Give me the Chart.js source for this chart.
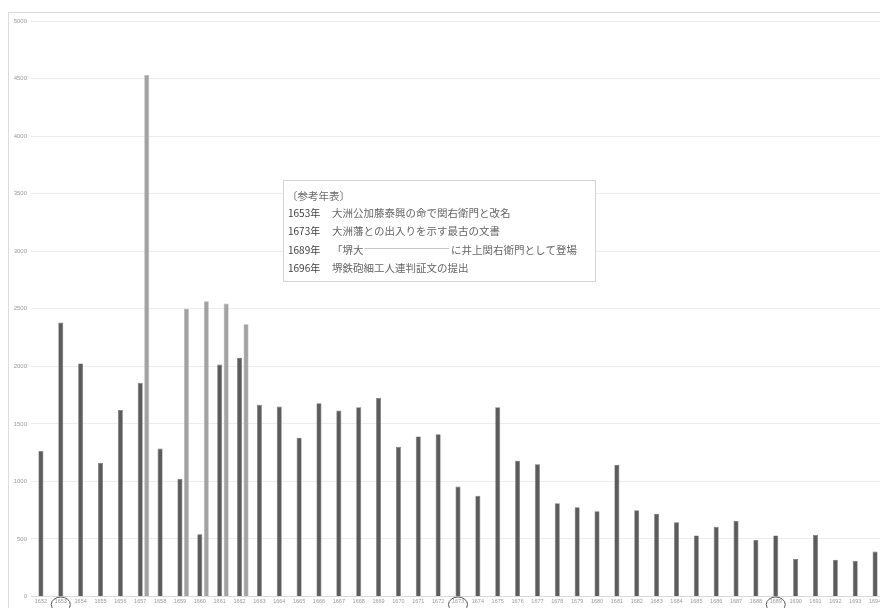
<!DOCTYPE html>
<html>
<head>
<meta charset="utf-8">
<script src="https://cdn.jsdelivr.net/npm/chart.js@4"></script>
<style>
  html, body { margin: 0; padding: 0; background: #fff; overflow: hidden; width: 880px; height: 608px; }
  canvas { display: block; }
</style>
</head>
<body>
<canvas id="c" width="890" height="608"></canvas>
<script>
// Years on the category axis
const years = ['1652','1653','1654','1655','1656','1657','1658','1659','1660','1661','1662','1663','1664','1665','1666','1667','1668','1669','1670','1671','1672','1673','1674','1675','1676','1677','1678','1679','1680','1681','1682','1683','1684','1685','1686','1687','1688','1689','1690','1691','1692','1693','1694'];

// Main yearly series (dark bars)
const mainValues = [1265, 2380, 2025, 1160, 1620, 1855, 1285, 1020, 540, 2015, 2075, 1665, 1650, 1380, 1680, 1615, 1645, 1725, 1300, 1390, 1410, 955, 875, 1645, 1180, 1150, 810, 775, 740, 1145, 750, 720, 645, 530, 605, 655, 490, 530, 325, 535, 320, 310, 390];

// Secondary series, only present for a few years (light bars)
const secondValues = [null, null, null, null, null, 4530, null, 2500, 2565, 2545, 2365, null, null, null, null, null, null, null, null, null, null, null, null, null, null, null, null, null, null, null, null, null, null, null, null, null, null, null, null, null, null, null, null];

// Value axis ticks
const yTicks = [0, 500, 1000, 1500, 2000, 2500, 3000, 3500, 4000, 4500, 5000];

// Years circled on the axis
const circledYears = ['1653', '1673', '1689'];

// Reference chronology box
const noteTitle = '〔参考年表〕';
const noteYears = ['1653年', '1673年', '1689年', '1696年'];
const noteTexts = [
  ['大洲公加藤泰興の命で関右衛門と改名'],
  ['大洲藩との出入りを示す最古の文書'],
  ['「堺大', 'に井上関右衛門として登場'],
  ['堺鉄砲細工人連判証文の提出']
];

const JP = '"Noto Sans CJK JP", "Noto Sans", sans-serif';

const framePlugin = {
  id: 'frame',
  beforeDraw(chart) {
    const ctx = chart.ctx;
    ctx.save();
    ctx.fillStyle = '#ffffff';
    ctx.fillRect(0, 0, chart.width, chart.height);
    ctx.strokeStyle = '#dcdcdc';
    ctx.lineWidth = 1;
    ctx.strokeRect(8.5, 12.5, chart.width, chart.height);
    ctx.restore();
  }
};

const markPlugin = {
  id: 'marks',
  afterDraw(chart) {
    const ctx = chart.ctx;
    const xs = chart.scales.x;
    ctx.save();
    // circles around selected year labels
    ctx.strokeStyle = '#555555';
    ctx.lineWidth = 1;
    circledYears.forEach(y => {
      const px = xs.getPixelForValue(years.indexOf(y));
      ctx.beginPath();
      ctx.ellipse(px, 604.5, 9.5, 7.5, 0, 0, Math.PI * 2);
      ctx.stroke();
    });

    // chronology box
    const bx = 283.5, by = 180.5, bw = 312, bh = 101;
    ctx.fillStyle = '#ffffff';
    ctx.fillRect(bx, by, bw, bh);
    ctx.strokeStyle = '#d4d4d4';
    ctx.strokeRect(bx, by, bw, bh);

    ctx.textBaseline = 'middle';
    ctx.textAlign = 'left';
    ctx.fillStyle = '#6a6a6a';
    ctx.font = '10.5px ' + JP;
    ctx.fillText(noteTitle, 287, 196);

    const rows = [213, 231.5, 250, 268];
    noteYears.forEach((label, i) => {
      const y = rows[i];
      ctx.fillStyle = '#3e3e3e';
      ctx.font = '10px ' + JP;
      ctx.fillText(label, 288, y);
      ctx.fillStyle = '#666666';
      ctx.font = '10.5px ' + JP;
      const parts = noteTexts[i];
      ctx.fillText(parts[0], 332, y);
      if (parts.length > 1) {
        const w0 = ctx.measureText(parts[0]).width;
        ctx.strokeStyle = '#c8c8c8';
        ctx.beginPath();
        ctx.moveTo(332 + w0 + 1, y - 1.5);
        ctx.lineTo(449, y - 1.5);
        ctx.stroke();
        ctx.fillText(parts[1], 451, y);
      }
    });
    ctx.restore();
  }
};

new Chart(document.getElementById('c'), {
  type: 'bar',
  data: {
    labels: years,
    datasets: [
      { label: 'spacer', data: years.map(() => null), backgroundColor: 'rgba(0,0,0,0)' },
      { label: 'main', data: mainValues, backgroundColor: '#5c5c5c', borderColor: '#707070', borderWidth: 0.6 },
      { label: 'second', data: secondValues, backgroundColor: '#a2a2a2', borderColor: '#b4b4b4', borderWidth: 0.6 }
    ]
  },
  options: {
    responsive: false,
    animation: false,
    devicePixelRatio: 1,
    categoryPercentage: 0.98,
    barPercentage: 0.77,
    layout: { padding: { top: 21, right: 5, left: 0, bottom: 0 } },
    plugins: { legend: { display: false }, tooltip: { enabled: false } },
    scales: {
      x: {
        grid: { display: false, drawTicks: false },
        border: { display: true, color: '#d9d9d9' },
        ticks: {
          autoSkip: false, maxRotation: 0, minRotation: 0, padding: 2,
          color: '#9a9a9a', font: { family: 'Liberation Sans', size: 5.5 }
        },
        afterFit(axis) { axis.height = 11.5; }
      },
      y: {
        min: 0, max: 5000,
        afterBuildTicks(axis) { axis.ticks = yTicks.map(v => ({ value: v })); },
        grid: { color: '#ececec', drawTicks: false },
        border: { display: false },
        ticks: {
          padding: 4, color: '#9a9a9a',
          font: { family: 'Liberation Sans', size: 6 },
          callback: v => String(v)
        },
        afterFit(axis) { axis.width = 31; }
      }
    }
  },
  plugins: [framePlugin, markPlugin]
});
</script>
</body>
</html>
